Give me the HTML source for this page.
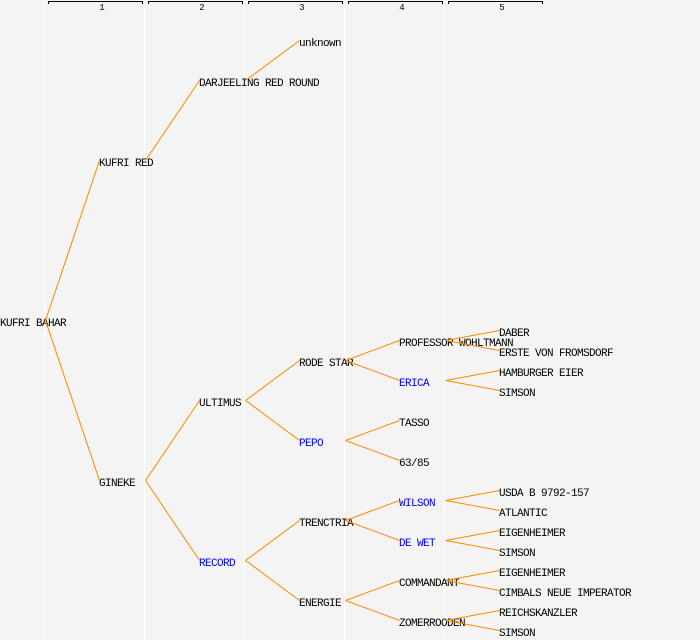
<!DOCTYPE html>
<html><head><meta charset="utf-8"><style>
html,body{margin:0;padding:0;background:#f4f4f4;}
svg{display:block;}
text{font-family:"Liberation Mono","DejaVu Sans Mono",monospace;font-size:11px;letter-spacing:-0.6px;fill:#000;}
.b{fill:#0000ff;}
.h{font-size:9px;letter-spacing:0;text-anchor:middle;}
</style></head><body>
<svg width="700" height="640" viewBox="0 0 700 640" xmlns="http://www.w3.org/2000/svg">
<rect width="700" height="640" fill="#f4f4f4"/>
<g stroke="#ffffff" stroke-width="1" shape-rendering="crispEdges">
<line x1="44.5" y1="0" x2="44.5" y2="640"/>
<line x1="144.5" y1="0" x2="144.5" y2="640"/>
<line x1="244.5" y1="0" x2="244.5" y2="640"/>
<line x1="344.5" y1="0" x2="344.5" y2="640"/>
<line x1="444.5" y1="0" x2="444.5" y2="640"/>
</g>
<g stroke="#000" stroke-width="1" fill="none" shape-rendering="crispEdges">
<polyline points="48.5,4 48.5,1.5 142.5,1.5 142.5,4"/>
<polyline points="148.5,4 148.5,1.5 242.5,1.5 242.5,4"/>
<polyline points="248.5,4 248.5,1.5 342.5,1.5 342.5,4"/>
<polyline points="348.5,4 348.5,1.5 442.5,1.5 442.5,4"/>
<polyline points="448.5,4 448.5,1.5 542.5,1.5 542.5,4"/>
</g>
<text class="h" x="102" y="10">1</text>
<text class="h" x="202" y="10">2</text>
<text class="h" x="302" y="10">3</text>
<text class="h" x="402" y="10">4</text>
<text class="h" x="502" y="10">5</text>

<text x="0" y="326">KUFRI BAHAR</text>
<text x="99" y="166">KUFRI RED</text>
<text x="99" y="486">GINEKE</text>
<text x="199" y="86">DARJEELING RED ROUND</text>
<text x="199" y="406">ULTIMUS</text>
<text x="199" y="566" class="b">RECORD</text>
<text x="299" y="46">unknown</text>
<text x="299" y="366">RODE STAR</text>
<text x="299" y="446" class="b">PEPO</text>
<text x="299" y="526">TRENCTRIA</text>
<text x="299" y="606">ENERGIE</text>
<text x="399" y="346">PROFESSOR WOHLTMANN</text>
<text x="399" y="386" class="b">ERICA</text>
<text x="399" y="426">TASSO</text>
<text x="399" y="466">63/85</text>
<text x="399" y="506" class="b">WILSON</text>
<text x="399" y="546" class="b">DE WET</text>
<text x="399" y="586">COMMANDANT</text>
<text x="399" y="626">ZOMERROODEN</text>
<text x="499" y="336">DABER</text>
<text x="499" y="356">ERSTE VON FROMSDORF</text>
<text x="499" y="376">HAMBURGER EIER</text>
<text x="499" y="396">SIMSON</text>
<text x="499" y="496">USDA B 9792-157</text>
<text x="499" y="516">ATLANTIC</text>
<text x="499" y="536">EIGENHEIMER</text>
<text x="499" y="556">SIMSON</text>
<text x="499" y="576">EIGENHEIMER</text>
<text x="499" y="596">CIMBALS NEUE IMPERATOR</text>
<text x="499" y="616">REICHSKANZLER</text>
<text x="499" y="636">SIMSON</text>

<g stroke="#ff8800" stroke-width="1" fill="none">
<line x1="45.5" y1="320.5" x2="99.5" y2="160.5"/>
<line x1="45.5" y1="320.5" x2="99.5" y2="480.5"/>
<line x1="145.5" y1="160.5" x2="199.5" y2="80.5"/>
<line x1="245.5" y1="80.5" x2="299.5" y2="40.5"/>
<line x1="145.5" y1="480.5" x2="199.5" y2="400.5"/>
<line x1="145.5" y1="480.5" x2="199.5" y2="560.5"/>
<line x1="245.5" y1="400.5" x2="299.5" y2="360.5"/>
<line x1="245.5" y1="400.5" x2="299.5" y2="440.5"/>
<line x1="245.5" y1="560.5" x2="299.5" y2="520.5"/>
<line x1="245.5" y1="560.5" x2="299.5" y2="600.5"/>
<line x1="345.5" y1="360.5" x2="399.5" y2="340.5"/>
<line x1="345.5" y1="360.5" x2="399.5" y2="380.5"/>
<line x1="345.5" y1="440.5" x2="399.5" y2="420.5"/>
<line x1="345.5" y1="440.5" x2="399.5" y2="460.5"/>
<line x1="345.5" y1="520.5" x2="399.5" y2="500.5"/>
<line x1="345.5" y1="520.5" x2="399.5" y2="540.5"/>
<line x1="345.5" y1="600.5" x2="399.5" y2="580.5"/>
<line x1="345.5" y1="600.5" x2="399.5" y2="620.5"/>
<line x1="445.5" y1="340.5" x2="499.5" y2="330.5"/>
<line x1="445.5" y1="340.5" x2="499.5" y2="350.5"/>
<line x1="445.5" y1="380.5" x2="499.5" y2="370.5"/>
<line x1="445.5" y1="380.5" x2="499.5" y2="390.5"/>
<line x1="445.5" y1="500.5" x2="499.5" y2="490.5"/>
<line x1="445.5" y1="500.5" x2="499.5" y2="510.5"/>
<line x1="445.5" y1="540.5" x2="499.5" y2="530.5"/>
<line x1="445.5" y1="540.5" x2="499.5" y2="550.5"/>
<line x1="445.5" y1="580.5" x2="499.5" y2="570.5"/>
<line x1="445.5" y1="580.5" x2="499.5" y2="590.5"/>
<line x1="445.5" y1="620.5" x2="499.5" y2="610.5"/>
<line x1="445.5" y1="620.5" x2="499.5" y2="630.5"/>
</g>
</svg>
</body></html>
